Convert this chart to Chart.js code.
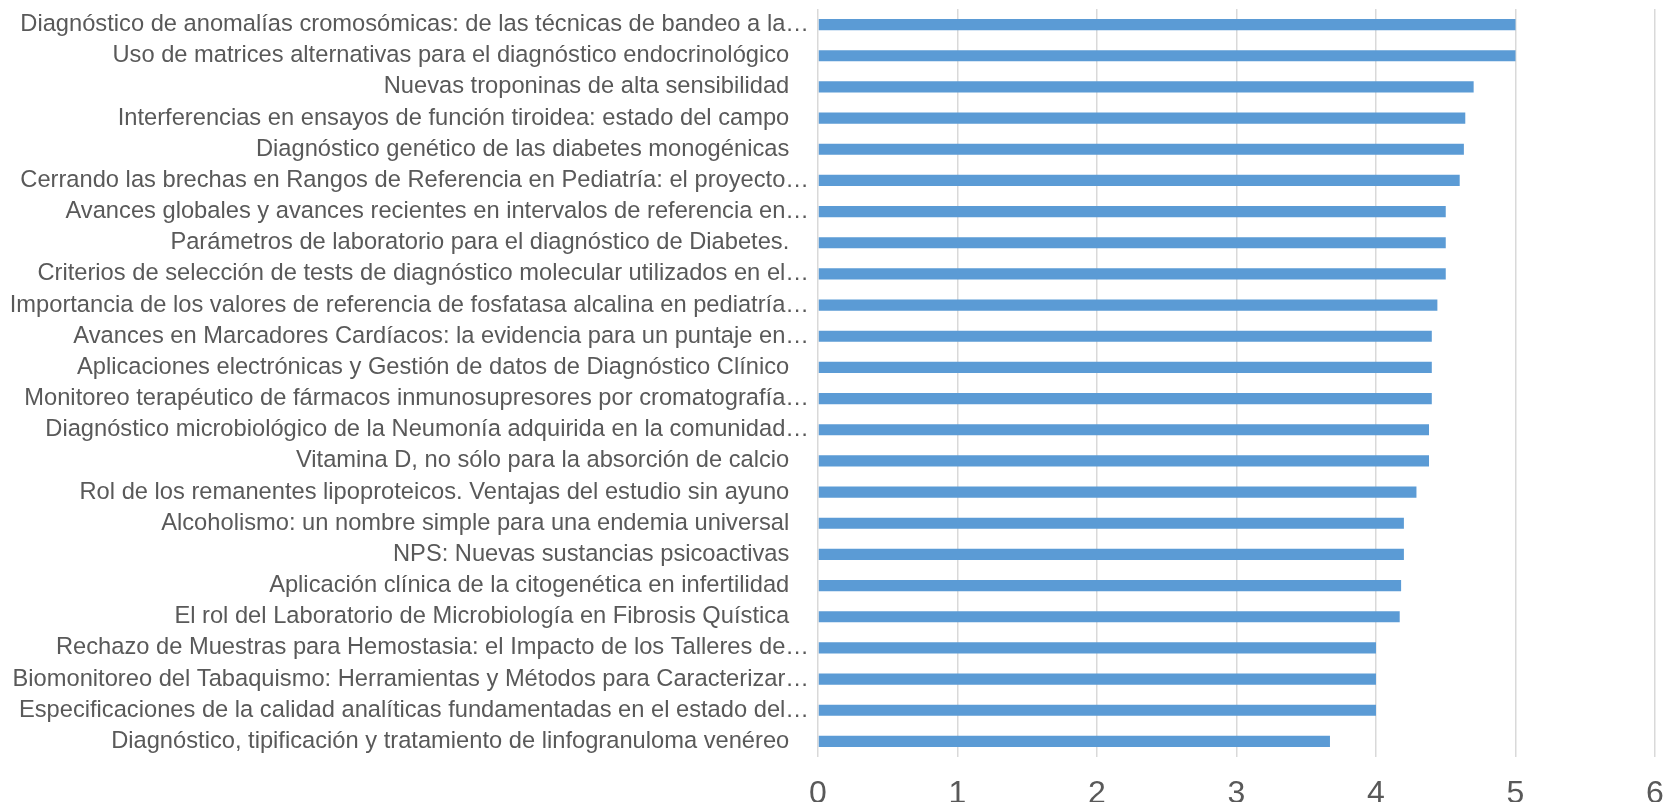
<!DOCTYPE html>
<html>
<head>
<meta charset="utf-8">
<script src="https://cdn.jsdelivr.net/npm/chart.js@4"></script>
<style>
  html, body { margin: 0; padding: 0; background: #fff; }
  #wrap { width: 1664px; height: 802px; position: relative; }
</style>
</head>
<body>
<div id="wrap"><canvas id="talksChart"></canvas></div>
<script>
const talks = [
    'Diagnóstico de anomalías cromosómicas: de las técnicas de bandeo a la…',
    'Uso de matrices alternativas para el diagnóstico endocrinológico',
    'Nuevas troponinas de alta sensibilidad',
    'Interferencias en ensayos de función tiroidea: estado del campo',
    'Diagnóstico genético de las diabetes monogénicas',
    'Cerrando las brechas en Rangos de Referencia en Pediatría: el proyecto…',
    'Avances globales y avances recientes en intervalos de referencia en…',
    'Parámetros de laboratorio para el diagnóstico de Diabetes.',
    'Criterios de selección de tests de diagnóstico molecular utilizados en el…',
    'Importancia de los valores de referencia de fosfatasa alcalina en pediatría…',
    'Avances en Marcadores Cardíacos: la evidencia para un puntaje en…',
    'Aplicaciones electrónicas y Gestión de datos de Diagnóstico Clínico',
    'Monitoreo terapéutico de fármacos inmunosupresores por cromatografía…',
    'Diagnóstico microbiológico de la Neumonía adquirida en la comunidad…',
    'Vitamina D, no sólo para la absorción de calcio',
    'Rol de los remanentes lipoproteicos. Ventajas del estudio sin ayuno',
    'Alcoholismo: un nombre simple para una endemia universal',
    'NPS: Nuevas sustancias psicoactivas',
    'Aplicación clínica de la citogenética en infertilidad',
    'El rol del Laboratorio de Microbiología en Fibrosis Quística',
    'Rechazo de Muestras para Hemostasia: el Impacto de los Talleres de…',
    'Biomonitoreo del Tabaquismo: Herramientas y Métodos para Caracterizar…',
    'Especificaciones de la calidad analíticas fundamentadas en el estado del…',
    'Diagnóstico, tipificación y tratamiento de linfogranuloma venéreo'
];

const scores = [
    5.0, 5.0, 4.70, 4.64, 4.63, 4.60, 4.50, 4.50, 4.50, 4.44, 4.40, 4.40,
    4.40, 4.38, 4.38, 4.29, 4.20, 4.20, 4.18, 4.17, 4.00, 4.00, 4.00, 3.67
];

const xTicks = [0, 1, 2, 3, 4, 5, 6];

const fontFamily = "'Liberation Sans', Arial, sans-serif";

const ctx = document.getElementById('talksChart').getContext('2d');
const talksChart = new Chart(ctx, {
    type: 'bar',
    data: {
        labels: talks,
        datasets: [
            {
                label: 'Puntaje',
                data: scores,
                backgroundColor: '#5B9BD5',
                borderWidth: 0,
                categoryPercentage: 1,
                barPercentage: 0.36
            }
        ]
    },
    options: {
        indexAxis: 'y',
        responsive: true,
        maintainAspectRatio: false,
        animation: false,
        layout: {
            padding: { top: 9, right: 0, bottom: 0, left: 0 }
        },
        plugins: {
            legend: { display: false },
            tooltip: { enabled: false }
        },
        scales: {
            x: {
                min: 0,
                max: 6,
                afterBuildTicks: (scale) => {
                    scale.ticks = xTicks.map(v => ({ value: v }));
                },
                afterFit: (scale) => {
                    scale.height = 45;
                    scale.paddingLeft = 0;
                    scale.paddingRight = 9;
                },
                grid: {
                    color: '#D9D9D9',
                    lineWidth: 1.5,
                    drawTicks: false
                },
                border: { display: false },
                ticks: {
                    color: '#595959',
                    padding: 18,
                    maxRotation: 0,
                    font: { family: fontFamily, size: 32 }
                }
            },
            y: {
                grid: { display: false },
                border: { display: false },
                afterFit: (scale) => {
                    scale.width = 818;
                    scale.paddingTop = 0;
                    scale.paddingBottom = 0;
                },
                ticks: {
                    color: '#595959',
                    padding: 1,
                    autoSkip: false,
                    font: { family: fontFamily, size: 23.7 },
                    callback: function (value) {
                        const text = this.getLabelForValue(value);
                        return text.endsWith('…') ? text : text + '   ';
                    }
                }
            }
        }
    }
});
</script>
</body>
</html>
